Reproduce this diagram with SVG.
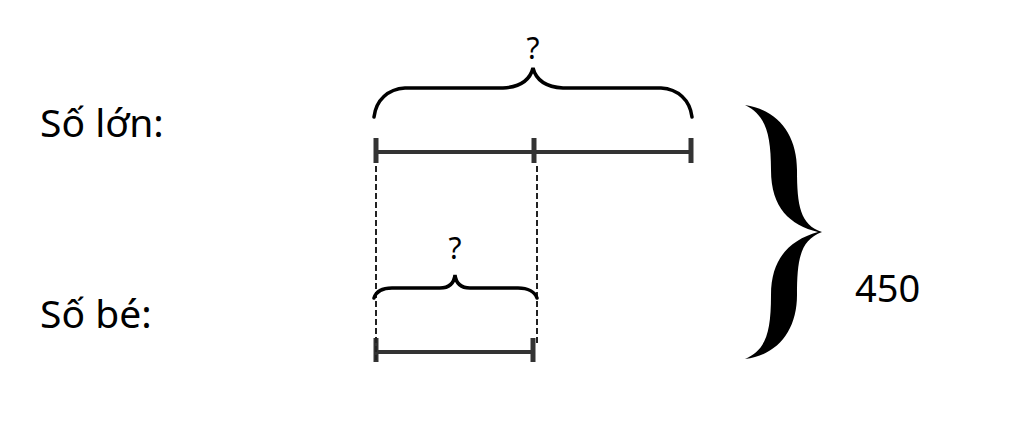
<svg xmlns="http://www.w3.org/2000/svg" width="1024" height="421" viewBox="0 0 1024 421">
<style>
.lbl{font-family:"Noto Sans","DejaVu Sans",sans-serif;fill:#000}
.bar{stroke:#333;stroke-width:4;fill:none}
.tick{stroke:#333;stroke-width:5;fill:none}
.dash{stroke:#222;stroke-width:2;stroke-dasharray:6,3;fill:none}
.brace{stroke:#000;stroke-width:3.5;fill:none;stroke-linecap:round}
</style>
<rect width="1024" height="421" fill="#fff"/>
<g id="label-lon"><text class="lbl" x="40" y="137" font-size="39">Số lớn:</text></g>
<g id="label-be"><text class="lbl" x="40" y="328" font-size="39">Số bé:</text></g>
<g id="bar-lon">
<line class="bar" x1="375" y1="152" x2="692" y2="152"/>
<line class="tick" x1="376" y1="138" x2="376" y2="163"/>
<line class="tick" x1="534" y1="138" x2="534" y2="163"/>
<line class="tick" x1="691" y1="138" x2="691" y2="163"/>
</g>
<g id="bar-be">
<line class="bar" x1="375" y1="352" x2="534" y2="352"/>
<line class="tick" x1="376" y1="338" x2="376" y2="362"/>
<line class="tick" x1="533" y1="338" x2="533" y2="362"/>
</g>
<g id="connectors">
<line class="dash" x1="376" y1="166" x2="376" y2="360"/>
<line class="dash" x1="537" y1="166" x2="537" y2="346"/>
</g>
<g id="brace-lon">
<path class="brace" d="M374,117 C376,100 388,89 405,88 L503,88 C520,87 530,80 533,68 C536,80 546,87 563,88 L661,88 C678,89 690,100 692,117"/>
<text class="lbl" x="533" y="59" font-size="30" text-anchor="middle">?</text>
</g>
<g id="brace-be">
<path class="brace" d="M374,298 C376,292 382,288 392,288 L440,288 C449,288 454,283 455,275 C456,283 461,288 470,288 L518,288 C528,288 535,292 537,298"/>
<text class="lbl" x="455" y="259" font-size="30" text-anchor="middle">?</text>
</g>
<g id="brace-total">
<path fill="#000" d="M745,105 C778,110 797,135 797,170 C797,205 800,225 822,232 C800,240 797,260 797,295 C797,330 778,355 745,359 C765,350 771,335 771,295 C771,258 790,240 818,232 C790,225 771,208 771,170 C771,132 765,115 745,105 Z"/>
<text class="lbl" x="855" y="302" font-size="38">450</text>
</g>
</svg>
